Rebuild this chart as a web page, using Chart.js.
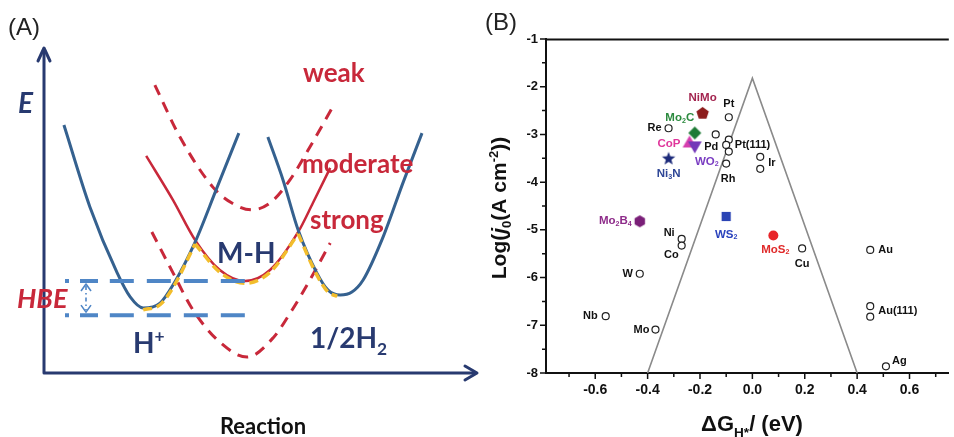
<!DOCTYPE html>
<html>
<head>
<meta charset="utf-8">
<script src="https://cdn.jsdelivr.net/npm/chart.js@4.4.0/dist/chart.umd.min.js"></script>
<style>
  body { margin: 0; background: #fff; }
  #wrap { position: relative; width: 954px; height: 437px; overflow: hidden; }
  canvas { position: absolute; top: 0; }
  #diagram { left: 0; }
  #volcano { left: 480px; }
</style>
</head>
<body>
<div id="wrap">
  <canvas id="diagram" width="480" height="437"></canvas>
  <canvas id="volcano" width="474" height="437"></canvas>
</div>
<script>
// ---------- (A) energy diagram: reaction coordinate 0-10, energy 0-10 ----------
const wellHx   = [0.46, 1.06, 1.69, 1.99, 2.29, 2.68, 2.98, 3.49, 4.00, 4.50];
const wellHy   = [7.63, 5.11, 3.08, 2.34, 2.00, 2.15, 2.71, 4.03, 5.72, 7.38];
const wellH2x  = [5.17, 5.52, 5.87, 6.30, 6.56, 6.84, 7.11, 7.37, 7.83, 8.29, 8.73];
const wellH2y  = [7.26, 5.94, 4.40, 3.08, 2.55, 2.40, 2.49, 2.86, 4.18, 5.85, 7.38];
const moderateX = [2.36, 2.98, 3.49, 4.06, 4.64, 5.22, 5.87, 6.21, 6.61];
const moderateY = [6.68, 5.32, 4.09, 3.17, 2.83, 3.17, 4.34, 5.23, 6.31];
const weakX    = [2.56, 3.14, 3.90, 4.34, 4.80, 5.22, 5.68, 6.10, 6.72];
const weakY    = [8.86, 7.26, 5.72, 5.23, 5.02, 5.23, 5.94, 6.86, 8.31];
const strongX  = [2.49, 2.98, 3.44, 4.06, 4.69, 5.29, 5.73, 6.14, 6.61];
const strongY  = [4.34, 3.08, 1.94, 0.95, 0.49, 1.08, 1.94, 2.86, 4.00];
// lowest-energy path (yellow), split at the two crossings
const pathAx = [2.29, 2.68, 2.98, 3.49];
const pathAy = [1.94, 2.10, 2.63, 3.97];
const pathBx = [3.49, 4.06, 4.64, 5.22, 5.87];
const pathBy = [3.97, 3.10, 2.76, 3.10, 4.28];
const pathCx = [5.87, 6.30, 6.56, 6.77];
const pathCy = [4.28, 3.02, 2.49, 2.36];
// HBE reference levels
const hbeX = [1.52, 4.76];
const hbeUpper = 2.83;
const hbeLower = 1.78;

// ---------- (B) volcano plot ----------
const metalNames = ['Pt', 'Re', '', 'Pt(111)', 'Pd', '', 'Rh', 'Ir', '', 'Ni', 'Co', 'Cu', 'W', 'Nb', 'Mo', 'Au', 'Au(111)', '', 'Ag'];
const metalDG    = [-0.09, -0.32, -0.14, -0.09, -0.10, -0.09, -0.10, 0.03, 0.03, -0.27, -0.27, 0.19, -0.43, -0.56, -0.37, 0.45, 0.45, 0.45, 0.51];
const metalLogJ  = [-2.64, -2.87, -3.00, -3.11, -3.22, -3.36, -3.61, -3.47, -3.72, -5.19, -5.33, -5.39, -5.92, -6.81, -7.09, -5.42, -6.60, -6.82, -7.86];

const catNames = ['NiMo', 'Mo_2C', 'CoP', 'WO_2', 'Ni_3N', 'Mo_2B_4', 'WS_2', 'MoS_2'];
const catDG    = [-0.19, -0.22, -0.24, -0.22, -0.32, -0.43, -0.10, 0.08];
const catLogJ  = [-2.56, -2.97, -3.19, -3.23, -3.51, -4.82, -4.72, -5.12];

const volcanoDG   = [-0.4, 0, 0.4];
const volcanoLogJ = [-8, -1.82, -8];

// label placement: [dx, dy, align] in px from the point
const metalLabelPos = [
  [0, -13, 'center'], [-7, 0, 'right'], null, [6, 5, 'left'], [-8, 2, 'right'], null,
  [2, 15, 'center'], [8, 6, 'left'], null, [-7, -6, 'right'], [-3, 9, 'right'],
  [0, 16, 'center'], [-7, 0, 'right'], [-8, 0, 'right'], [-6, 0, 'right'],
  [8, 0, 'left'], [8, 5, 'left'], null, [6, -5, 'left']
];
const catLabelPos = [
  [0, -16, 'center'], [-15, -15, 'center'], [-9, 0, 'right'], [12, 16, 'center'],
  [0, 15, 'center'], [-8, 0, 'right'], [0, 18, 'center'], [2, 14, 'center']
];
const catMarkerColors = ['#8c1c1c', '#1d7a35', '#d63fae', '#7438b8', '#1c2a7a', '#7a1f78', '#2a44b4', '#e8262a'];
const catLabelColors  = ['#a3244f', '#2b8a3e', '#e0369b', '#7a3dc2', '#2d4596', '#8e2c8a', '#2b43bd', '#e02a2a'];

const NAVY = '#283a70';
const RED = '#c8283a';
const BLUE = '#35618f';

const zip = (xs, ys) => xs.map((x, i) => ({ x: x, y: ys[i] }));

// text with sub/superscripts: segs = [{t, s:'sub'|'sup', i:italic}]
function parseLabel(str) {
  const out = [];
  let buf = '';
  for (let k = 0; k < str.length; k++) {
    const ch = str[k];
    if (ch === '_' || ch === '^') {
      if (buf) out.push({ t: buf });
      buf = '';
      out.push({ t: str[++k], s: ch === '_' ? 'sub' : 'sup' });
    } else {
      buf += ch;
    }
  }
  if (buf) out.push({ t: buf });
  return out;
}

function drawRich(ctx, segs, x, y, align, size, weight, family, color) {
  const parts = segs.map(sg => {
    const fs = sg.s ? size * 0.62 : size;
    const font = (sg.i ? 'italic ' : '') + weight + ' ' + fs + 'px ' + family;
    ctx.font = font;
    const dy = sg.s === 'sub' ? size * 0.25 : sg.s === 'sup' ? -size * 0.38 : 0;
    return { t: sg.t, font: font, w: ctx.measureText(sg.t).width, dy: dy };
  });
  const total = parts.reduce((a, p) => a + p.w, 0);
  let cx = align === 'center' ? x - total / 2 : align === 'right' ? x - total : x;
  ctx.textAlign = 'left';
  ctx.fillStyle = color;
  parts.forEach(p => {
    ctx.font = p.font;
    ctx.fillText(p.t, cx, y + p.dy);
    cx += p.w;
  });
}

function shape(n, r, fill, rot, star) {
  const c = document.createElement('canvas');
  const s = Math.ceil(r * 2 + 2);
  c.width = c.height = s;
  const g = c.getContext('2d');
  g.translate(s / 2, s / 2);
  g.beginPath();
  const m = star ? n * 2 : n;
  for (let k = 0; k < m; k++) {
    const a = rot + k * 2 * Math.PI / m;
    const rr = star && k % 2 ? r * 0.42 : r;
    g.lineTo(rr * Math.cos(a), rr * Math.sin(a));
  }
  g.closePath();
  g.fillStyle = fill;
  g.fill();
  return c;
}

const up = -Math.PI / 2;
const catStyles = [
  shape(5, 6.5, catMarkerColors[0], up),
  shape(4, 6.5, catMarkerColors[1], 0),
  shape(3, 8, catMarkerColors[2], up),
  shape(3, 8, catMarkerColors[3], Math.PI / 2),
  shape(5, 7, catMarkerColors[4], up, true),
  shape(6, 6, catMarkerColors[5], up),
  shape(4, 6.5, catMarkerColors[6], Math.PI / 4),
  'circle'
];

Chart.defaults.animation = false;
Chart.defaults.plugins.legend.display = false;
Chart.defaults.plugins.tooltip.enabled = false;

// ---------- chart A ----------
const diagramDecor = {
  id: 'diagramDecor',
  afterDatasetsDraw(chart) {
    const { ctx, chartArea: a, scales: { x, y } } = chart;
    ctx.save();
    // axes with open arrow heads
    ctx.strokeStyle = NAVY;
    ctx.lineWidth = 3;
    ctx.lineCap = 'round';
    ctx.lineJoin = 'round';
    ctx.beginPath();
    ctx.moveTo(a.left, a.top + 2);
    ctx.lineTo(a.left, a.bottom);
    ctx.lineTo(a.right - 2, a.bottom);
    ctx.stroke();
    ctx.beginPath();
    ctx.moveTo(a.left - 6, a.top + 13);
    ctx.lineTo(a.left, a.top);
    ctx.lineTo(a.left + 6, a.top + 13);
    ctx.moveTo(a.right - 12, a.bottom - 7);
    ctx.lineTo(a.right, a.bottom);
    ctx.lineTo(a.right - 12, a.bottom + 7);
    ctx.stroke();

    // HBE bracket and double arrow
    const yU = y.getPixelForValue(hbeUpper);
    const yL = y.getPixelForValue(hbeLower);
    ctx.strokeStyle = '#4f86c6';
    ctx.lineCap = 'butt';
    ctx.lineWidth = 4;
    ctx.beginPath();
    [yU, yL].forEach(v => {
      ctx.moveTo(a.left + 21, v); ctx.lineTo(a.left + 25, v);
      ctx.moveTo(a.left + 36, v); ctx.lineTo(a.left + 54, v);
    });
    ctx.stroke();
    ctx.lineWidth = 1.6;
    const ax = a.left + 42;
    ctx.beginPath();
    ctx.moveTo(ax - 5, yU + 10); ctx.lineTo(ax, yU + 3); ctx.lineTo(ax + 5, yU + 10);
    ctx.moveTo(ax - 5, yL - 10); ctx.lineTo(ax, yL - 3); ctx.lineTo(ax + 5, yL - 10);
    ctx.stroke();
    ctx.setLineDash([4, 3, 1.5, 3]);
    ctx.beginPath();
    ctx.moveTo(ax, yU + 5); ctx.lineTo(ax, yL - 5);
    ctx.stroke();
    ctx.setLineDash([]);

    // text
    ctx.textBaseline = 'alphabetic';
    drawRich(ctx, [{ t: '(A)' }], 8, 35, 'left', 24, 'normal', '"Liberation Sans", Arial', '#222');
    drawRich(ctx, [{ t: 'E', i: true }], 18, 113, 'left', 28, 'bold', 'Lato', NAVY);
    drawRich(ctx, [{ t: 'weak' }], 303, 82, 'left', 26, 'bold', 'Lato', RED);
    drawRich(ctx, [{ t: 'moderate' }], 302, 173, 'left', 26, 'bold', 'Lato', RED);
    drawRich(ctx, [{ t: 'strong' }], 310, 229, 'left', 26, 'bold', 'Lato', RED);
    drawRich(ctx, [{ t: 'HBE', i: true }], 17, 308, 'left', 27, 'bold', 'Lato', RED);
    drawRich(ctx, [{ t: 'M-H' }], 217, 263, 'left', 28, 'bold', 'Lato', NAVY);
    drawRich(ctx, [{ t: 'H' }, { t: '+', s: 'sup' }], 133, 353, 'left', 28, 'bold', 'Lato', NAVY);
    drawRich(ctx, [{ t: '1/2H' }, { t: '2', s: 'sub' }], 310, 348, 'left', 28, 'bold', 'Lato', NAVY);
    drawRich(ctx, [{ t: 'Reaction' }], 263, 434, 'center', 22, 'bold', 'Lato', '#111');
    ctx.restore();
  }
};

const curve = (xs, ys, color, width, dash, order) => ({
  data: zip(xs, ys),
  showLine: true,
  borderColor: color,
  borderWidth: width,
  borderDash: dash || [],
  pointRadius: 0,
  cubicInterpolationMode: 'monotone',
  order: order === undefined ? 2 : order
});

new Chart(document.getElementById('diagram'), {
  type: 'scatter',
  data: {
    datasets: [
      curve(wellHx, wellHy, BLUE, 3),
      curve(wellH2x, wellH2y, BLUE, 3),
      curve(moderateX, moderateY, RED, 2.5),
      curve(weakX, weakY, RED, 3, [11, 8]),
      curve(strongX, strongY, RED, 3, [11, 8]),
      curve(pathAx, pathAy, '#f2bd2c', 3.5, [9, 5], 1),
      curve(pathBx, pathBy, '#f2bd2c', 3.5, [9, 5], 1),
      curve(pathCx, pathCy, '#f2bd2c', 3.5, [9, 5], 1),
      curve(hbeX, [hbeUpper, hbeUpper], '#4f86c6', 4, [24, 13], 0),
      curve(hbeX, [hbeLower, hbeLower], '#4f86c6', 4, [24, 13], 0)
    ]
  },
  options: {
    responsive: false,
    devicePixelRatio: 1,
    layout: { padding: { left: 44, right: 3, top: 48, bottom: 64 } },
    scales: {
      x: { type: 'linear', min: 0, max: 10, display: false },
      y: { type: 'linear', min: 0, max: 10, display: false }
    }
  },
  plugins: [diagramDecor]
});

// ---------- chart B ----------
const volcanoDecor = {
  id: 'volcanoDecor',
  afterDatasetsDraw(chart) {
    const { ctx, chartArea: a, scales: { x, y } } = chart;
    ctx.save();
    // top frame line
    ctx.strokeStyle = '#111';
    ctx.lineWidth = 2;
    ctx.beginPath();
    ctx.moveTo(a.left - 1, a.top + 0.5);
    ctx.lineTo(a.right, a.top + 0.5);
    ctx.stroke();

    // tick marks: long on labelled ticks, short between
    ctx.lineWidth = 1.5;
    ctx.beginPath();
    x.ticks.forEach(t => {
      const px = x.getPixelForValue(t.value);
      const len = t.label ? 6 : 4;
      ctx.moveTo(px, a.bottom);
      ctx.lineTo(px, a.bottom + len);
    });
    y.ticks.forEach(t => {
      const py = y.getPixelForValue(t.value);
      const len = t.label ? 6 : 4;
      ctx.moveTo(a.left, py);
      ctx.lineTo(a.left - len, py);
    });
    ctx.stroke();

    // point labels
    ctx.textBaseline = 'middle';
    const fam = '"Liberation Sans", Arial';
    metalNames.forEach((n, i) => {
      const p = metalLabelPos[i];
      if (!n || !p) return;
      drawRich(ctx, parseLabel(n), x.getPixelForValue(metalDG[i]) + p[0], y.getPixelForValue(metalLogJ[i]) + p[1], p[2], 11, 'bold', fam, '#111');
    });
    catNames.forEach((n, i) => {
      const p = catLabelPos[i];
      drawRich(ctx, parseLabel(n), x.getPixelForValue(catDG[i]) + p[0], y.getPixelForValue(catLogJ[i]) + p[1], p[2], 11.5, 'bold', fam, catLabelColors[i]);
    });

    // panel tag and axis titles
    ctx.textBaseline = 'alphabetic';
    drawRich(ctx, [{ t: '(B)' }], 5, 30, 'left', 24, 'normal', fam, '#222');
    drawRich(ctx, [{ t: 'ΔG' }, { t: 'H*', s: 'sub' }, { t: '/ (eV)' }], 272, 431, 'center', 22, 'bold', fam, '#111');
    ctx.translate(26, 208);
    ctx.rotate(-Math.PI / 2);
    drawRich(ctx, [{ t: 'Log(' }, { t: 'j', i: true }, { t: '0', s: 'sub' }, { t: '(A cm' }, { t: '-2', s: 'sup' }, { t: '))' }], 0, 0, 'center', 21, 'bold', fam, '#111');
    ctx.restore();
  }
};

new Chart(document.getElementById('volcano'), {
  type: 'scatter',
  data: {
    datasets: [
      {
        data: zip(catDG, catLogJ),
        pointStyle: catStyles,
        pointRadius: 5,
        backgroundColor: catMarkerColors,
        borderColor: catMarkerColors,
        borderWidth: 0,
        order: 0
      },
      {
        data: zip(metalDG, metalLogJ),
        pointStyle: 'circle',
        pointRadius: 3.5,
        backgroundColor: '#fff',
        borderColor: '#222',
        borderWidth: 1.2,
        order: 1
      },
      {
        data: zip(volcanoDG, volcanoLogJ),
        showLine: true,
        borderColor: '#8a8a8a',
        borderWidth: 1.6,
        pointRadius: 0,
        order: 2
      }
    ]
  },
  options: {
    responsive: false,
    devicePixelRatio: 1,
    layout: { padding: { top: 39, right: 0, left: 0, bottom: 0 } },
    scales: {
      x: {
        type: 'linear',
        min: -0.788,
        max: 0.75,
        afterFit: s => { s.height = 64; },
        grid: { display: false, drawTicks: false },
        border: { display: true, color: '#111', width: 2 },
        ticks: {
          stepSize: 0.1,
          includeBounds: false,
          autoSkip: false,
          maxRotation: 0,
          padding: 9,
          color: '#111',
          font: { family: '"Liberation Sans", Arial', weight: 'bold', size: 14 },
          callback: v => {
            const r = Math.round(v * 10);
            return r % 2 === 0 ? (r / 10).toFixed(1) : '';
          }
        }
      },
      y: {
        type: 'linear',
        min: -8,
        max: -1,
        afterFit: s => { s.width = 66; },
        grid: { display: false, drawTicks: false },
        border: { display: true, color: '#111', width: 2 },
        ticks: {
          stepSize: 0.5,
          autoSkip: false,
          padding: 8,
          color: '#111',
          font: { family: '"Liberation Sans", Arial', weight: 'bold', size: 13 },
          callback: v => (Number.isInteger(v) ? String(v) : '')
        }
      }
    }
  },
  plugins: [volcanoDecor]
});
</script>
</body>
</html>
